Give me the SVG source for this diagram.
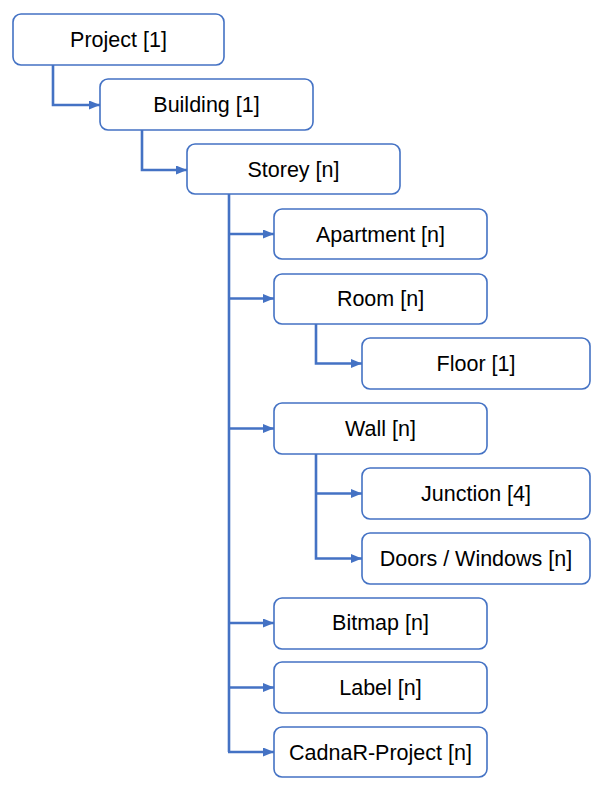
<svg xmlns="http://www.w3.org/2000/svg" width="615" height="798" viewBox="0 0 615 798">
<style>
.box{fill:#fff;stroke:#4472C4;stroke-width:1.6}
.t{font-family:"Liberation Sans",Arial,sans-serif;font-size:21.5px;fill:#000;text-anchor:middle;dominant-baseline:central}
.c{fill:none;stroke:#4472C4;stroke-width:2.6}
</style>
<defs>
<marker id="ah" markerWidth="11" markerHeight="9" refX="11" refY="4.5" orient="auto" markerUnits="userSpaceOnUse">
<path d="M0,0 L11,4.5 L0,9 Z" fill="#4472C4"/>
</marker>
</defs>
<rect width="615" height="798" fill="#fff"/>
<g id="connectors">
<path class="c" d="M53,65 V105 H100" marker-end="url(#ah)"/>
<path class="c" d="M142,130 V170 H187" marker-end="url(#ah)"/>
<path class="c" d="M229,194 V752"/>
<path class="c" d="M229,234 H274" marker-end="url(#ah)"/>
<path class="c" d="M229,298.5 H274" marker-end="url(#ah)"/>
<path class="c" d="M229,428.5 H274" marker-end="url(#ah)"/>
<path class="c" d="M229,623 H274" marker-end="url(#ah)"/>
<path class="c" d="M229,687.5 H274" marker-end="url(#ah)"/>
<path class="c" d="M228,752 H274" marker-end="url(#ah)"/>
<path class="c" d="M316,324 V363.5 H362" marker-end="url(#ah)"/>
<path class="c" d="M316,454 V558.5 H362" marker-end="url(#ah)"/>
<path class="c" d="M316,493.5 H362" marker-end="url(#ah)"/>
</g>
<g id="project"><rect class="box" x="13" y="14" width="211" height="51" rx="8"/><text class="t" x="118.5" y="40">Project [1]</text></g>
<g id="building"><rect class="box" x="100" y="79" width="213" height="51" rx="8"/><text class="t" x="206.5" y="105">Building [1]</text></g>
<g id="storey"><rect class="box" x="187" y="144" width="213" height="50" rx="8"/><text class="t" x="293.5" y="170">Storey [n]</text></g>
<g id="apartment"><rect class="box" x="274" y="209" width="213" height="50" rx="8"/><text class="t" x="380.5" y="235">Apartment [n]</text></g>
<g id="room"><rect class="box" x="274" y="274" width="213" height="50" rx="8"/><text class="t" x="380.5" y="299">Room [n]</text></g>
<g id="floor"><rect class="box" x="362" y="338" width="228" height="51" rx="8"/><text class="t" x="476" y="364">Floor [1]</text></g>
<g id="wall"><rect class="box" x="274" y="403" width="213" height="51" rx="8"/><text class="t" x="380.5" y="429">Wall [n]</text></g>
<g id="junction"><rect class="box" x="362" y="468" width="228" height="51" rx="8"/><text class="t" x="476" y="494">Junction [4]</text></g>
<g id="doors-windows"><rect class="box" x="362" y="533" width="228" height="51" rx="8"/><text class="t" x="476" y="559">Doors / Windows [n]</text></g>
<g id="bitmap"><rect class="box" x="274" y="598" width="213" height="51" rx="8"/><text class="t" x="380.5" y="623">Bitmap [n]</text></g>
<g id="label"><rect class="box" x="274" y="662" width="213" height="51" rx="8"/><text class="t" x="380.5" y="688">Label [n]</text></g>
<g id="cadnar-project"><rect class="box" x="274" y="727" width="213" height="50" rx="8"/><text class="t" x="380.5" y="753">CadnaR-Project [n]</text></g>
</svg>
